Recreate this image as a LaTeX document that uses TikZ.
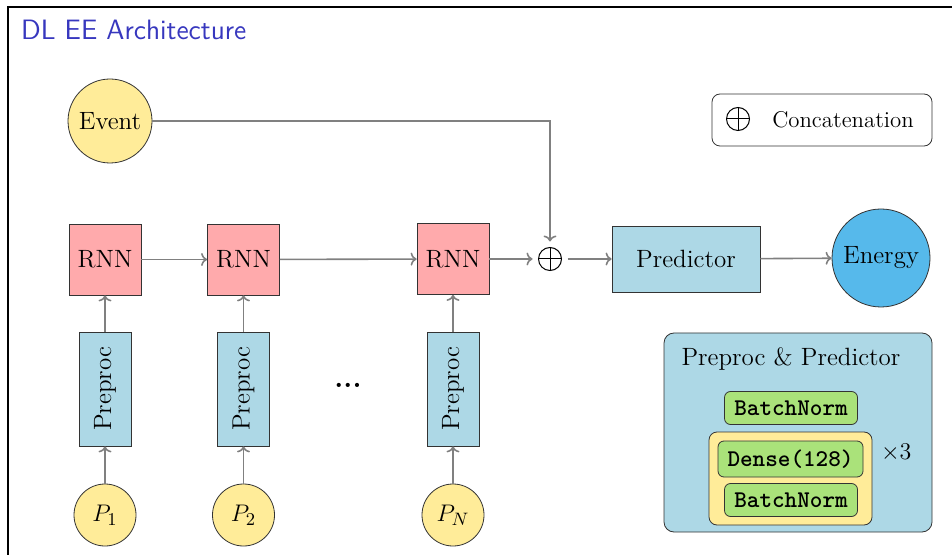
\documentclass[tikz,border=0pt]{standalone}
\usetikzlibrary{arrows.meta}
\definecolor{rnnpink}{RGB}{255,170,172}
\definecolor{boxblue}{RGB}{173,216,230}
\definecolor{circyellow}{RGB}{255,236,153}
\definecolor{layergreen}{RGB}{170,226,122}
\definecolor{energyblue}{RGB}{86,185,235}
\definecolor{titleblue}{RGB}{55,55,190}
\newcommand{\basefont}{\fontsize{12.5}{15}\selectfont}
\tikzset{
  base/.style={font=\basefont, draw=black!80, line width=0.4pt},
  rnnbox/.style={base, fill=rnnpink, minimum width=36pt, minimum height=35.5pt, inner sep=0pt},
  prebox/.style={base, fill=boxblue, minimum width=57pt, minimum height=26pt, inner sep=0pt, rotate=90},
  pcirc/.style={base, circle, fill=circyellow, minimum size=31pt, inner sep=0pt},
  concatnode/.style={circle, draw=black, line width=0.5pt, minimum size=11.5pt, inner sep=0pt, outer sep=3pt,
    path picture={\draw[line width=0.5pt] (path picture bounding box.north) -- (path picture bounding box.south)
      (path picture bounding box.west) -- (path picture bounding box.east);}},
  layer/.style={draw=black!80, line width=0.4pt, fill=layergreen, rounded corners=3pt, inner sep=0pt,
    font=\large\ttfamily\bfseries},
  arr/.style={draw=black!50, line width=0.8pt, -{To[length=3pt,width=6.5pt]}},
}
\begin{document}
\begin{tikzpicture}[x=0.5pt,y=-0.5pt]
\useasboundingbox (0,0) rectangle (952,555);
% frame
\draw[line width=1.1pt, black] (8,556) -- (8,7) -- (953,7);
\node[anchor=west, text=titleblue, font=\fontsize{14}{16}\selectfont\sffamily] (title) at (14,30) {DL EE Architecture};

% event
\node[pcirc, minimum size=42pt] (event) at (110,121) {Event};

% legend
\draw[base, rounded corners=4pt, fill=white] (712,94) rectangle (932,146);
\node[concatnode, outer sep=0pt] (lgc) at (738,119) {};
\node[font=\fontsize{11.4}{14}\selectfont, anchor=center] (lgt) at (843,120) {Concatenation};

% RNNs
\node[rnnbox] (rnn1) at (105,259.5) {RNN};
\node[rnnbox] (rnn2) at (243.5,259.5) {RNN};
\node[rnnbox] (rnn3) at (453,259) {RNN};
\node[concatnode] (cat) at (550,259) {};
\node[base, fill=boxblue, minimum width=74pt, minimum height=33pt] (pred) at (686,259) {Predictor};
\node[base, circle, fill=energyblue, minimum size=49pt, inner sep=0pt] (energy) at (881,258) {Energy};

% preproc
\node[prebox] (pre1) at (105,389) {Preproc};
\node[prebox] (pre2) at (243.5,389) {Preproc};
\node[prebox] (pre3) at (453,389) {Preproc};
\node[font=\Large\bfseries] (dots) at (348,385) {...};

% inputs
\node[pcirc] (p1) at (105,515) {$P_1$};
\node[pcirc] (p2) at (243.5,515) {$P_2$};
\node[pcirc] (pn) at (453,515) {$P_N$};

% connectors
\draw[arr] (p1) -- (pre1);
\draw[arr] (p2) -- (pre2);
\draw[arr] (pn) -- (pre3);
\draw[arr] (pre1) -- (rnn1);
\draw[arr] (pre2) -- (rnn2);
\draw[arr] (pre3) -- (rnn3);
\draw[arr] (rnn1) -- (rnn2);
\draw[arr] (rnn2) -- (rnn3);
\draw[arr] (rnn3) -- (cat);
\draw[arr] (event.east) -| (cat.north);
\draw[arr] (cat) -- (pred);
\draw[arr] (pred) -- (energy);

% preproc & predictor box
\draw[base, fill=boxblue, rounded corners=5pt] (664,333) rectangle (932,532);
\node[font=\basefont] (ppt) at (791,359) {Preproc \& Predictor};
\node[layer, minimum width=66.5pt, minimum height=16.5pt] (bn1) at (791,408) {BatchNorm};
\draw[base, fill=circyellow, rounded corners=4pt] (709,432) rectangle (872,525);
\node[layer, minimum width=72.5pt, minimum height=18pt] (dense) at (790.5,459) {Dense(128)};
\node[layer, minimum width=66.5pt, minimum height=16.5pt] (bn2) at (791,500) {BatchNorm};
\node[font=\basefont, anchor=west] (times) at (874,453) {$\times3$};
\end{tikzpicture}
\end{document}
